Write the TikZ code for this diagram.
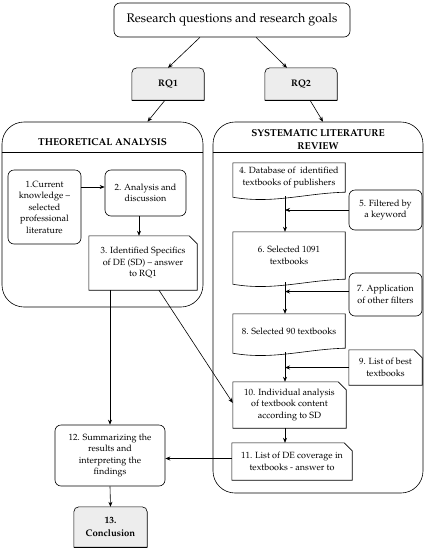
\documentclass[tikz,border=0pt]{standalone}
\usepackage[T1]{fontenc}
\usepackage{mathpazo}
\usetikzlibrary{arrows.meta,calc}
\definecolor{greyfill}{HTML}{EDEDED}
\tikzset{
  txt/.style={font=\fontsize{9}{11.5}\selectfont, align=center, inner sep=0pt},
  rbox/.style={txt, draw, rounded corners=6pt, line width=0.6pt},
  plain/.style={txt},
  ttl/.style={font=\fontsize{10}{13}\selectfont\bfseries, align=center, inner sep=0pt},
  cont/.style={draw, rounded corners=22pt, line width=0.6pt, inner sep=0pt},
  shp/.style={line width=0.6pt},
  arr/.style={line width=0.6pt, -{Stealth[length=5pt,width=4pt]}},
  ln/.style={line width=0.6pt}
}
\newcommand{\cardshape}[1]{\draw[shp] (#1.south west) -- (#1.north west) -- ([xshift=-8pt]#1.north east) -- ([yshift=-8pt]#1.north east) -- (#1.south east) -- cycle;}
\newcommand{\docshape}[1]{\draw[shp] (#1.south west) -- (#1.north west) -- (#1.north east) -- (#1.south east) .. controls ([xshift=-40pt,yshift=-1pt]#1.south east) and ([xshift=40pt,yshift=-12pt]#1.south west) .. ([yshift=-5pt]#1.south west) -- cycle;}
\newcommand{\greyshape}[1]{\draw[shp, fill=greyfill] (#1.south west) [rounded corners=5pt] -- (#1.north west) -- (#1.north east) [sharp corners] -- (#1.south east) -- cycle;
\draw[line width=1.2pt] (#1.south west) -- (#1.south east);}
\begin{document}
\begin{tikzpicture}[x=1pt,y=-1pt]
\useasboundingbox (0,0) rectangle (427,550);

% top
\node[rbox, font=\fontsize{12.5}{14}\selectfont, minimum width=236, minimum height=34] (top) at (232,20) {Research questions and research goals};

% RQ boxes (placeholders for anchors)
\node[plain, minimum width=72, minimum height=32] (rq1) at (168,84) {};
\node[plain, minimum width=72, minimum height=32] (rq2) at (301,84) {};

% containers
\node[cont, minimum width=201, minimum height=185] (ta) at (102.5,214.5) {};
\node[cont, minimum width=210, minimum height=371] (slr) at (318,307.5) {};
\draw[ln] ([yshift=-31pt]ta.north west) -- ([yshift=-31pt]ta.north east);
\draw[ln] ([yshift=-31pt]slr.north west) -- ([yshift=-31pt]slr.north east);
\node[ttl] (tat) at (102.5,142) {THEORETICAL ANALYSIS};
\node[ttl] (slrt) at (318,139.5) {SYSTEMATIC LITERATURE\\REVIEW};

% theoretical analysis nodes
\node[rbox, minimum width=73, minimum height=74] (n1) at (44.5,207) {1.Current\\knowledge --\\selected\\professional\\literature};
\node[rbox, minimum width=81, minimum height=46] (n2) at (145.5,193) {2. Analysis and\\discussion};
\node[plain, minimum width=108, minimum height=54] (n3) at (143,263) {3. Identified Specifics\\of DE (SD) -- answer\\to RQ1};

% SLR nodes
\node[plain, minimum width=112, minimum height=29] (n4) at (289,177.5) {4. Database of \ identified\\textbooks of publishers};
\node[rbox, minimum width=73, minimum height=40] (n5) at (385.5,210) {5. Filtered by\\a keyword};
\node[plain, minimum width=112, minimum height=47] (n6) at (289,255.5) {6. Selected 1091\\textbooks};
\node[rbox, minimum width=73, minimum height=43] (n7) at (385.5,294.5) {7. Application\\of other filters};
\node[plain, minimum width=112, minimum height=34] (n8) at (289,331) {8. Selected 90 textbooks};
\node[plain, minimum width=73, minimum height=35] (n9) at (385.5,367.5) {9. List of best\\textbooks};
\node[plain, minimum width=113, minimum height=46] (n10) at (289.5,405) {10. Individual analysis\\of textbook content\\according to SD};
\node[plain, minimum width=120, minimum height=37] (n11) at (292,461.5) {11. List of DE coverage in\\textbooks - answer to};

% bottom nodes
\node[rbox, minimum width=110, minimum height=61] (n12) at (110,455.5) {12. Summarizing the\\results and\\interpreting the\\findings};
\node[plain, minimum width=73, minimum height=40] (n13) at (110.5,527) {};

% shapes
\greyshape{rq1}
\greyshape{rq2}
\greyshape{n13}
\node[plain, font=\fontsize{9.5}{12}\selectfont\bfseries] (rq1t) at (rq1) {RQ1};
\node[plain, font=\fontsize{9.5}{12}\selectfont\bfseries] (rq2t) at (rq2) {RQ2};
\node[plain, font=\fontsize{9.5}{13}\selectfont\bfseries] (n13t) at (n13) {13.\\Conclusion};
\cardshape{n3}
\cardshape{n9}
\cardshape{n10}
\cardshape{n11}
\docshape{n4}
\docshape{n6}
\docshape{n8}

% spine coordinate
\coordinate (sp) at (285,0);

% connectors
\draw[arr] ([xshift=-32pt]top.south) -- (rq1.north);
\draw[arr] ([xshift=24pt]top.south) -- ([xshift=-14pt]rq2.north);
\draw[arr] ([xshift=-3pt]rq1.south) -- ([xshift=45pt]ta.north);
\draw[arr] ([xshift=9pt]rq2.south) -- ([xshift=5pt]slr.north);
\draw[arr] ([yshift=20pt]n1.east) -- ([yshift=20pt]n1.east -| n2.west);
\draw[arr] ([xshift=-6.5pt]n2.south) -- ([xshift=-6.5pt]n2.south |- n3.north);
\draw[arr] (n12.north |- n3.south) -- (n12.north);
\draw[arr] ([xshift=16pt]n3.south) -- ([yshift=2pt]n10.west);
\draw[arr] ([yshift=3pt]n11.west) -- ([yshift=3pt]n11.west -| n12.east);
\draw[arr] (n12.south) -- (n13.north);
\draw[arr] ([yshift=-4pt]n4.south -| sp) -- (n6.north -| sp);
\draw[arr] (n5.west) -- (n5.west -| sp);
\draw[arr] ([yshift=-3pt]n6.south -| sp) -- (n8.north -| sp);
\draw[arr] ([yshift=3pt]n7.west) -- ([yshift=3pt]n7.west -| sp);
\draw[arr] ([yshift=-4pt]n8.south -| sp) -- (n10.north -| sp);
\draw[arr] (n9.west) -- (n9.west -| sp);
\draw[arr] (n10.south -| sp) -- (n11.north -| sp);
\end{tikzpicture}
\end{document}
